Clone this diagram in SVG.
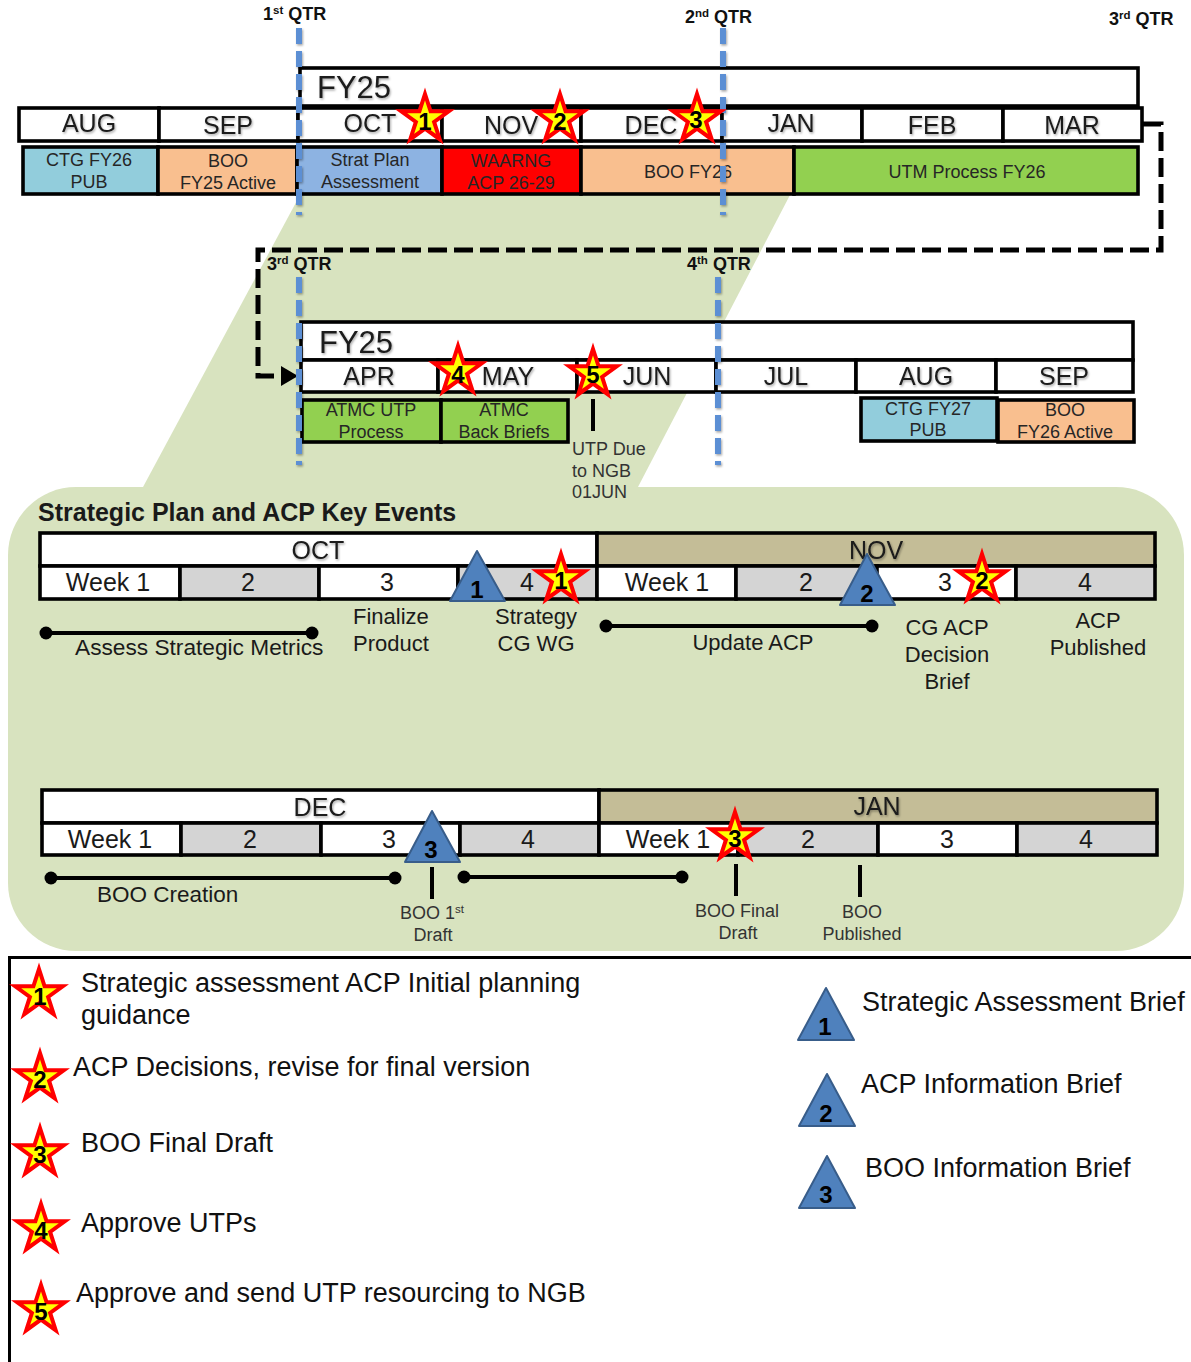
<svg xmlns="http://www.w3.org/2000/svg" width="1191" height="1362" viewBox="0 0 1191 1362">
<style>
text{font-family:"Liberation Sans",Arial,sans-serif;fill:#1a1a1a}
.m{font-size:25px;text-anchor:middle}
.a{font-size:18px;text-anchor:middle;fill:#262626}
.q{font-size:18px;font-weight:bold;fill:#111}
.sup{font-size:11.500px}
.l{font-size:22px;text-anchor:middle}
.s{font-size:18px;text-anchor:middle;fill:#333}
.st{text-anchor:start}
.lg{font-size:27px;fill:#111}
.n{font-size:24px;font-weight:bold;text-anchor:middle;fill:#000}
.cell{stroke:#000;stroke-width:3.600;fill:#fff}
.g{fill:#D4D4D4}
.tan{fill:#C4BD97}
.blue{fill:#92CDDC}
.peach{fill:#F9BF8F}
.sky{fill:#8DB3E2}
.red{fill:#FF0000}
.green{fill:#92D050}
.qline{fill:none;stroke:#5B8FD4;stroke-width:6;stroke-dasharray:16 7}
.dash{fill:none;stroke:#000;stroke-width:5;stroke-dasharray:19 7}
.bar{stroke:#000;stroke-width:4;fill:none}
.tick{stroke:#000;stroke-width:4}
.tri{fill:#4F81BD;stroke:#385D8A;stroke-width:2;stroke-linejoin:round}
</style>
<defs>
<path id="star" d="M0-25L5.600-7.700L23.800-7.700L9.100 2.950L14.700 20.200L0 9.550L-14.700 20.200L-9.100 2.950L-23.800-7.700L-5.600-7.700Z" fill="#FFFF00" stroke="#FF0000" stroke-width="4" stroke-miterlimit="10"/>
<marker id="ah" markerUnits="userSpaceOnUse" markerWidth="18" markerHeight="20" refX="0" refY="10" orient="auto"><path d="M0 0L17 10L0 20Z" fill="#000"/></marker>
<filter id="sh" filterUnits="userSpaceOnUse" x="0" y="0" width="1191" height="1362"><feDropShadow dx="1" dy="1.500" stdDeviation="1" flood-color="#000" flood-opacity=".35"/></filter>
</defs>
<rect width="1191" height="1362" fill="#fff"/>
<g id="background">
<path d="M300 195H790L638 487H143Z" fill="#D8E3BF"/>
<rect x="8" y="487" width="1176" height="464" rx="68" ry="68" fill="#D8E3BF"/>
</g>
<g id="fy25-upper">
<rect class="cell" x="300" y="68" width="838" height="38"/>
<text x="317" y="98" font-size="31" filter="url(#sh)">FY25</text>
<g id="months-upper">
<rect class="cell" x="19" y="108" width="140" height="33"/>
<rect class="cell" x="159" y="108" width="139" height="33"/>
<rect class="cell" x="298" y="108" width="144" height="33"/>
<rect class="cell" x="442" y="108" width="139" height="33"/>
<rect class="cell" x="581" y="108" width="141" height="33"/>
<rect class="cell" x="722" y="108" width="140" height="33"/>
<rect class="cell" x="862" y="108" width="141" height="33"/>
<rect class="cell" x="1003" y="108" width="139" height="33"/>
<g filter="url(#sh)">
<text class="m" x="89" y="132">AUG</text><text class="m" x="228" y="134">SEP</text><text class="m" x="370" y="132">OCT</text><text class="m" x="511" y="134">NOV</text><text class="m" x="651" y="134">DEC</text><text class="m" x="791" y="132">JAN</text><text class="m" x="932" y="134">FEB</text><text class="m" x="1072" y="134">MAR</text>
</g>
</g>
<g id="activities-upper">
<rect class="cell blue" x="23" y="147" width="135" height="47"/>
<rect class="cell peach" x="158" y="147" width="139" height="47"/>
<rect class="cell sky" x="297" y="147" width="145" height="47"/>
<rect class="cell red" x="442" y="147" width="139" height="47"/>
<rect class="cell peach" x="581" y="147" width="213" height="47"/>
<rect class="cell green" x="794" y="147" width="344" height="47"/>
<text class="a" x="89" y="166">CTG FY26</text><text class="a" x="89" y="188">PUB</text>
<text class="a" x="228" y="167">BOO</text><text class="a" x="228" y="189">FY25 Active</text>
<text class="a" x="370" y="166">Strat Plan</text><text class="a" x="370" y="188">Assessment</text>
<text class="a" x="511" y="167">WAARNG</text><text class="a" x="511" y="189">ACP 26-29</text>
<text class="a" x="688" y="178">BOO FY26</text>
<text class="a" x="967" y="178">UTM Process FY26</text>
</g>
</g>
<g id="fy25-lower">
<rect class="cell" x="301" y="322" width="832" height="38"/>
<text x="319" y="353" font-size="31" filter="url(#sh)">FY25</text>
<g id="months-lower">
<rect class="cell" x="301" y="360" width="137" height="32"/>
<rect class="cell" x="438" y="360" width="139" height="32"/>
<rect class="cell" x="577" y="360" width="139" height="32"/>
<rect class="cell" x="716" y="360" width="140" height="32"/>
<rect class="cell" x="856" y="360" width="140" height="32"/>
<rect class="cell" x="996" y="360" width="137" height="32"/>
<g filter="url(#sh)">
<text class="m" x="369" y="385">APR</text><text class="m" x="508" y="385">MAY</text><text class="m" x="647" y="385">JUN</text><text class="m" x="786" y="385">JUL</text><text class="m" x="926" y="385">AUG</text><text class="m" x="1064" y="385">SEP</text>
</g>
</g>
<g id="activities-lower">
<rect class="cell green" x="302" y="400" width="139" height="42"/>
<rect class="cell green" x="441" y="400" width="127" height="42"/>
<rect class="cell blue" x="861" y="398" width="136" height="43"/>
<rect class="cell peach" x="998" y="400" width="136" height="42"/>
<text class="a" x="371" y="416">ATMC UTP</text><text class="a" x="371" y="438">Process</text>
<text class="a" x="504" y="416">ATMC</text><text class="a" x="504" y="438">Back Briefs</text>
<text class="a" x="928" y="415">CTG FY27</text><text class="a" x="928" y="436">PUB</text>
<text class="a" x="1065" y="416">BOO</text><text class="a" x="1065" y="438">FY26 Active</text>
</g>
<line class="tick" x1="593" y1="399" x2="593" y2="431"/>
<g id="utp-due"><text class="s st" x="572" y="455">UTP Due</text><text class="s st" x="572" y="477">to NGB</text><text class="s st" x="572" y="498">01JUN</text></g>
</g>
<g id="connectors">
<path class="dash" d="M1143 124H1161V250H258V376H281" marker-end="url(#ah)"/>
<path class="qline" d="M299 28V215" filter="url(#sh)"/>
<path class="qline" d="M723 28V215" filter="url(#sh)"/>
<path class="qline" d="M299 277V465" filter="url(#sh)"/>
<path class="qline" d="M718 277V465" filter="url(#sh)"/>
</g>
<g id="qtr-labels">
<text class="q" x="263" y="20">1<tspan class="sup" dy="-6">st</tspan><tspan dy="6"> QTR</tspan></text>
<text class="q" x="685" y="23">2<tspan class="sup" dy="-6">nd</tspan><tspan dy="6"> QTR</tspan></text>
<text class="q" x="1109" y="25">3<tspan class="sup" dy="-6">rd</tspan><tspan dy="6"> QTR</tspan></text>
<text class="q" x="267" y="270">3<tspan class="sup" dy="-6">rd</tspan><tspan dy="6"> QTR</tspan></text>
<text class="q" x="687" y="270">4<tspan class="sup" dy="-6">th</tspan><tspan dy="6"> QTR</tspan></text>
</g>
<g id="stars-top">
<g id="star-t1"><use href="#star" x="425" y="119"/><text class="n" x="425" y="130">1</text></g>
<g id="star-t2"><use href="#star" x="560" y="119"/><text class="n" x="560" y="130">2</text></g>
<g id="star-t3"><use href="#star" x="697" y="119"/><text class="n" x="696" y="128">3</text></g>
<g id="star-t4"><use href="#star" x="458" y="371"/><text class="n" x="458" y="383">4</text></g>
<g id="star-t5"><use href="#star" x="593" y="374"/><text class="n" x="593" y="383">5</text></g>
</g>
<text x="38" y="521" font-size="25" font-weight="bold" fill="#111" id="title">Strategic Plan and ACP Key Events</text>
<g id="table-oct-nov">
<rect class="cell" x="40" y="533" width="557" height="33"/>
<rect class="cell tan" x="597" y="533" width="558" height="33"/>
<rect class="cell" x="40" y="566" width="140" height="33"/>
<rect class="cell g" x="180" y="566" width="139" height="33"/>
<rect class="cell" x="319" y="566" width="139" height="33"/>
<rect class="cell g" x="458" y="566" width="139" height="33"/>
<rect class="cell" x="597" y="566" width="139" height="33"/>
<rect class="cell g" x="736" y="566" width="141" height="33"/>
<rect class="cell" x="877" y="566" width="139" height="33"/>
<rect class="cell g" x="1016" y="566" width="139" height="33"/>
<g filter="url(#sh)"><text class="m" x="318" y="559">OCT</text><text class="m" x="876" y="559">NOV</text></g>
<text class="m" x="108" y="591">Week 1</text><text class="m" x="248" y="591">2</text><text class="m" x="387" y="591">3</text><text class="m" x="527" y="591">4</text>
<text class="m" x="667" y="591">Week 1</text><text class="m" x="806" y="591">2</text><text class="m" x="945" y="591">3</text><text class="m" x="1085" y="591">4</text>
</g>
<g id="table-dec-jan">
<rect class="cell" x="42" y="790" width="557" height="33"/>
<rect class="cell tan" x="599" y="790" width="558" height="33"/>
<rect class="cell" x="42" y="823" width="139" height="32"/>
<rect class="cell g" x="181" y="823" width="140" height="32"/>
<rect class="cell" x="321" y="823" width="139" height="32"/>
<rect class="cell g" x="460" y="823" width="139" height="32"/>
<rect class="cell" x="599" y="823" width="139" height="32"/>
<rect class="cell g" x="738" y="823" width="140" height="32"/>
<rect class="cell" x="878" y="823" width="139" height="32"/>
<rect class="cell g" x="1017" y="823" width="140" height="32"/>
<g filter="url(#sh)"><text class="m" x="320" y="816">DEC</text><text class="m" x="877" y="815">JAN</text></g>
<text class="m" x="110" y="848">Week 1</text><text class="m" x="250" y="848">2</text><text class="m" x="389" y="848">3</text><text class="m" x="528" y="848">4</text>
<text class="m" x="668" y="848">Week 1</text><text class="m" x="808" y="848">2</text><text class="m" x="947" y="848">3</text><text class="m" x="1086" y="848">4</text>
</g>
<g id="spans">
<path class="bar" d="M46 633H312"/><circle cx="46" cy="633" r="6.500"/><circle cx="312" cy="633" r="6.500"/>
<path class="bar" d="M606 626H872"/><circle cx="606" cy="626" r="6.500"/><circle cx="872" cy="626" r="6.500"/>
<path class="bar" d="M51 878H395"/><circle cx="51" cy="878" r="6.500"/><circle cx="395" cy="878" r="6.500"/>
<path class="bar" d="M464 877H682"/><circle cx="464" cy="877" r="6.500"/><circle cx="682" cy="877" r="6.500"/>
<line class="tick" x1="432" y1="867" x2="432" y2="899"/>
<line class="tick" x1="736" y1="864" x2="736" y2="896"/>
<line class="tick" x1="860" y1="865" x2="860" y2="897"/>
</g>
<g id="event-labels">
<text class="l st" x="75" y="655" style="font-size:22.700px">Assess Strategic Metrics</text>
<text class="l st" x="353" y="624">Finalize</text><text class="l st" x="353" y="651">Product</text>
<text class="l" x="536" y="624">Strategy</text><text class="l" x="536" y="651">CG WG</text>
<text class="l" x="753" y="650">Update ACP</text>
<text class="l" x="947" y="635">CG ACP</text><text class="l" x="947" y="662">Decision</text><text class="l" x="947" y="689">Brief</text>
<text class="l" x="1098" y="628">ACP</text><text class="l" x="1098" y="655">Published</text>
<text class="l st" x="97" y="902" style="font-size:22.500px">BOO Creation</text>
<text class="s st" x="400" y="919">BOO 1<tspan class="sup" dy="-6">st</tspan></text>
<text class="s" x="433" y="941">Draft</text>
<text class="s" x="737" y="917">BOO Final</text><text class="s" x="738" y="939">Draft</text>
<text class="s" x="862" y="918">BOO</text><text class="s" x="862" y="940">Published</text>
</g>
<g id="markers-key">
<g id="tri-k1"><path class="tri" d="M477 551L505 601H450Z"/><text class="n" x="477" y="598">1</text></g>
<g id="tri-k2"><path class="tri" d="M867 554L895 605H840Z"/><text class="n" x="867" y="602">2</text></g>
<g id="tri-k3"><path class="tri" d="M432 811L460 862H405Z"/><text class="n" x="431" y="858">3</text></g>
<g id="star-k1"><use href="#star" x="561" y="579"/><text class="n" x="561" y="589">1</text></g>
<g id="star-k2"><use href="#star" x="982" y="579"/><text class="n" x="982" y="589">2</text></g>
<g id="star-k3"><use href="#star" x="735" y="837"/><text class="n" x="735" y="847">3</text></g>
</g>
<g id="legend">
<path d="M1191 957.500H9.500V1362" fill="none" stroke="#000" stroke-width="3"/>
<g id="legend-star-1"><use href="#star" x="39" y="994"/><text class="n" x="40" y="1005">1</text></g>
<g id="legend-star-2"><use href="#star" x="40" y="1078"/><text class="n" x="40" y="1088">2</text></g>
<g id="legend-star-3"><use href="#star" x="40" y="1153"/><text class="n" x="40" y="1163">3</text></g>
<g id="legend-star-4"><use href="#star" x="41" y="1229"/><text class="n" x="41" y="1239">4</text></g>
<g id="legend-star-5"><use href="#star" x="41" y="1310"/><text class="n" x="41" y="1320">5</text></g>
<text class="lg" x="81" y="992">Strategic assessment ACP Initial planning</text>
<text class="lg" x="81" y="1024">guidance</text>
<text class="lg" x="73" y="1076">ACP Decisions, revise for final version</text>
<text class="lg" x="81" y="1152">BOO Final Draft</text>
<text class="lg" x="81" y="1232">Approve UTPs</text>
<text class="lg" x="76" y="1302">Approve and send UTP resourcing to NGB</text>
<g id="legend-tri-1"><path class="tri" d="M826 988L854 1040H798Z"/><text class="n" x="825" y="1035">1</text></g>
<g id="legend-tri-2"><path class="tri" d="M827 1074L855 1126H799Z"/><text class="n" x="826" y="1122">2</text></g>
<g id="legend-tri-3"><path class="tri" d="M827 1156L855 1208H799Z"/><text class="n" x="826" y="1203">3</text></g>
<text class="lg" x="862" y="1011">Strategic Assessment Brief</text>
<text class="lg" x="861" y="1093">ACP Information Brief</text>
<text class="lg" x="865" y="1177">BOO Information Brief</text>
</g>
</svg>
